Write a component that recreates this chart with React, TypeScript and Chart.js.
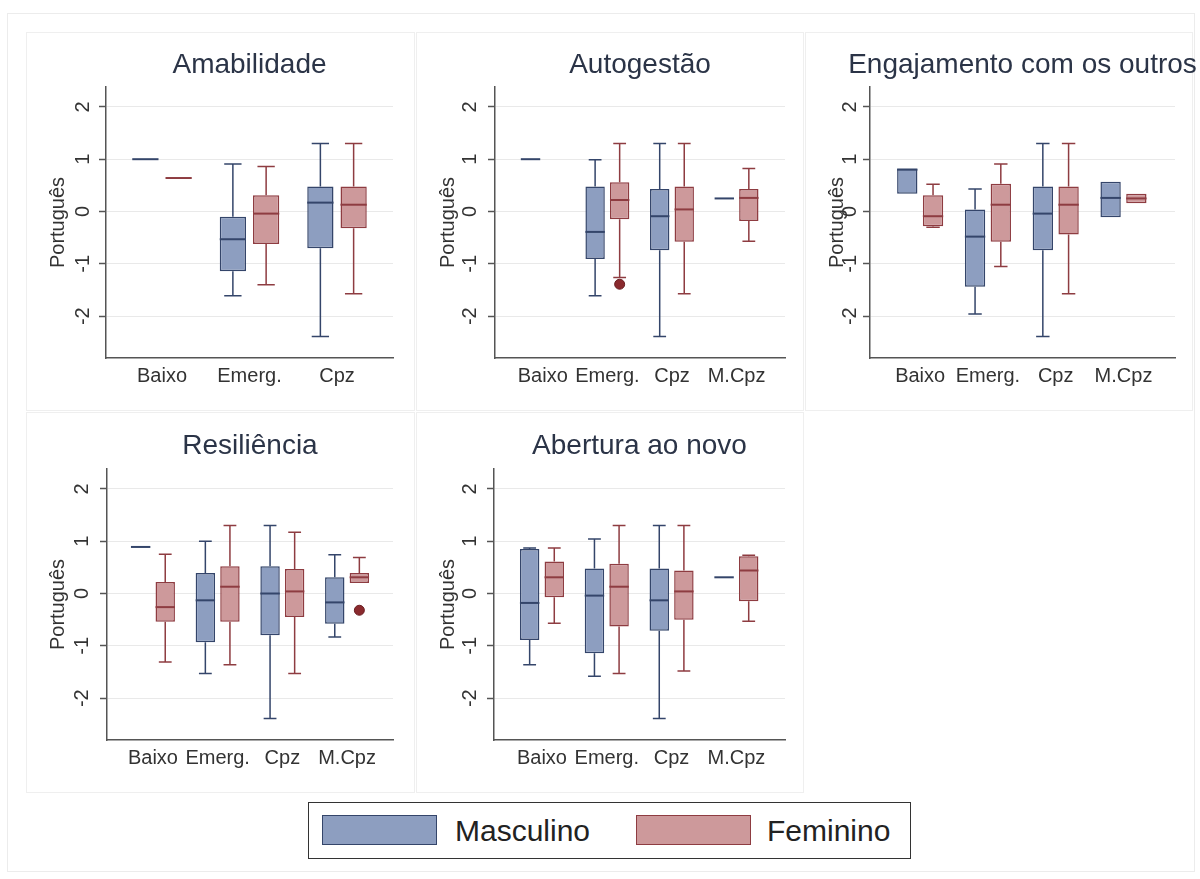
import React, { useEffect, useRef } from 'react';
import { Chart, registerables } from 'chart.js';

Chart.register(...registerables);

const FONT = "'Liberation Sans', Arial, Helvetica, sans-serif";

// ---------------- data ----------------
const categories3 = ['Baixo', 'Emerg.', 'Cpz'];
const categories4 = ['Baixo', 'Emerg.', 'Cpz', 'M.Cpz'];
const yTickValues = [-2, -1, 0, 1, 2];
const yAxisTitle = 'Português';
const seriesLabels = ['Masculino', 'Feminino'];
const panelTitles = ['Amabilidade', 'Autogestão', 'Engajamento com os outros', 'Resiliência', 'Abertura ao novo'];

// five-number summaries per category: [min, Q1, median, Q3, max]; null = no box
type Five = number[] | null;

const amabilidadeMasculino: Five[] = [
  [1.0, 1.0, 1.0, 1.0, 1.0],
  [-1.61, -1.14, -0.53, -0.1, 0.91],
  [-2.39, -0.7, 0.17, 0.48, 1.3],
];
const amabilidadeFeminino: Five[] = [
  [0.64, 0.64, 0.64, 0.64, 0.64],
  [-1.4, -0.62, -0.04, 0.31, 0.86],
  [-1.57, -0.32, 0.13, 0.48, 1.3],
];

const autogestaoMasculino: Five[] = [
  [1.0, 1.0, 1.0, 1.0, 1.0],
  [-1.61, -0.91, -0.39, 0.48, 0.99],
  [-2.39, -0.74, -0.09, 0.43, 1.3],
  [0.25, 0.25, 0.25, 0.25, 0.25],
];
const autogestaoFeminino: Five[] = [
  null,
  [-1.26, -0.15, 0.22, 0.56, 1.3],
  [-1.57, -0.58, 0.04, 0.48, 1.3],
  [-0.57, -0.18, 0.26, 0.43, 0.82],
];
const autogestaoFemininoOutliers = [[1, -1.39]];

const engajamentoMasculino: Five[] = [
  [0.34, 0.34, 0.8, 0.82, 0.82],
  [-1.96, -1.44, -0.48, 0.04, 0.43],
  [-2.39, -0.74, -0.04, 0.48, 1.3],
  [-0.11, -0.11, 0.26, 0.57, 0.57],
];
const engajamentoFeminino: Five[] = [
  [-0.3, -0.28, -0.09, 0.31, 0.52],
  [-1.05, -0.58, 0.13, 0.53, 0.91],
  [-1.57, -0.44, 0.13, 0.48, 1.3],
  [0.16, 0.16, 0.25, 0.34, 0.34],
];

const resilienciaMasculino: Five[] = [
  [0.89, 0.89, 0.89, 0.89, 0.89],
  [-1.53, -0.93, -0.13, 0.39, 1.0],
  [-2.39, -0.8, 0.0, 0.52, 1.3],
  [-0.83, -0.58, -0.17, 0.31, 0.74],
];
const resilienciaFeminino: Five[] = [
  [-1.31, -0.54, -0.26, 0.22, 0.75],
  [-1.36, -0.54, 0.13, 0.52, 1.3],
  [-1.53, -0.45, 0.04, 0.47, 1.17],
  [0.2, 0.2, 0.31, 0.39, 0.69],
];
const resilienciaFemininoOutliers = [[3, -0.32]];

const aberturaMasculino: Five[] = [
  [-1.36, -0.89, -0.18, 0.85, 0.87],
  [-1.58, -1.14, -0.04, 0.48, 1.04],
  [-2.39, -0.71, -0.13, 0.48, 1.3],
  [0.31, 0.31, 0.31, 0.31, 0.31],
];
const aberturaFeminino: Five[] = [
  [-0.57, -0.07, 0.31, 0.61, 0.87],
  [-1.53, -0.63, 0.13, 0.57, 1.3],
  [-1.48, -0.5, 0.04, 0.44, 1.3],
  [-0.53, -0.15, 0.44, 0.71, 0.73],
];

// ---------------- styles ----------------
const MASC_FILL = '#8d9ec0';
const MASC_LINE = '#34456a';
const FEM_FILL = '#cd999b';
const FEM_LINE = '#8e3c41';
const OUT_FILL = '#8a2a2e';
const TITLE_COLOR = '#2b3447';
const TEXT_COLOR = '#333333';
const AXIS_COLOR = '#555555';
const GRID_COLOR = '#e9e9e9';

const Y_MIN = -2.8;
const Y_MAX = 2.38;
const GROUP_OFFSET = 0.19;
const BOX_WIDTH = 0.3;

type PanelSpec = {
  title: string;
  categories: string[];
  masc: Five[];
  fem: Five[];
  outMasc: number[][];
  outFem: number[][];
};

const panels: PanelSpec[] = [
  { title: panelTitles[0], categories: categories3, masc: amabilidadeMasculino, fem: amabilidadeFeminino, outMasc: [], outFem: [] },
  { title: panelTitles[1], categories: categories4, masc: autogestaoMasculino, fem: autogestaoFeminino, outMasc: [], outFem: autogestaoFemininoOutliers },
  { title: panelTitles[2], categories: categories4, masc: engajamentoMasculino, fem: engajamentoFeminino, outMasc: [], outFem: [] },
  { title: panelTitles[3], categories: categories4, masc: resilienciaMasculino, fem: resilienciaFeminino, outMasc: [], outFem: resilienciaFemininoOutliers },
  { title: panelTitles[4], categories: categories4, masc: aberturaMasculino, fem: aberturaFeminino, outMasc: [], outFem: [] },
];

// layout of each panel canvas on the page
const layouts = [
  { left: 26, top: 32, width: 389, height: 379, axisWidth: 80, padRight: 22, xMin: -0.64, xMax: 2.64, yTickPad: 7, titleTop: 16, titleBottom: 5.4 },
  { left: 416, top: 32, width: 388, height: 379, axisWidth: 79, padRight: 19, xMin: -0.74, xMax: 3.75, yTickPad: 9, titleTop: 16, titleBottom: 5.4 },
  { left: 805, top: 32, width: 395, height: 379, axisWidth: 65, padRight: 25, xMin: -0.74, xMax: 3.76, yTickPad: 4, titleTop: 16, titleBottom: 5.4 },
  { left: 26, top: 412, width: 389, height: 381, axisWidth: 81, padRight: 22, xMin: -0.71, xMax: 3.71, yTickPad: 9, titleTop: 17, titleBottom: 6.4 },
  { left: 416, top: 412, width: 388, height: 381, axisWidth: 78, padRight: 19, xMin: -0.74, xMax: 3.75, yTickPad: 8, titleTop: 17, titleBottom: 6.4 },
];
const panelFrames = [
  { left: 26, top: 32, width: 389, height: 379 },
  { left: 416, top: 32, width: 388, height: 379 },
  { left: 805, top: 32, width: 388, height: 379 },
  { left: 26, top: 412, width: 389, height: 381 },
  { left: 416, top: 412, width: 388, height: 381 },
];

type Lay = (typeof layouts)[number];

function buildChart(canvas: HTMLCanvasElement, spec: PanelSpec, lay: Lay) {
  const toBars = (arr: Five[], off: number) =>
    arr.map((v, i) => (v ? { x: i + off, y: [v[1], v[3]] } : null)).filter(Boolean);
  const toPts = (arr: number[][], off: number) => arr.map(([c, v]) => ({ x: c + off, y: v }));

  const centerTitle = {
    id: 'centerTitle',
    afterLayout(chart: any) {
      const tb = chart.titleBlock;
      if (!tb) return;
      const c = (chart.chartArea.left + chart.chartArea.right) / 2;
      tb.left = c - 600;
      tb.right = c + 600;
    },
  };

  const whiskers = {
    id: 'whiskers',
    afterDatasetsDraw(chart: any) {
      const { ctx } = chart;
      const y = chart.scales.y;
      const groups = [
        { ds: 0, arr: spec.masc, color: MASC_LINE },
        { ds: 1, arr: spec.fem, color: FEM_LINE },
      ];
      ctx.save();
      groups.forEach(({ ds, arr, color }) => {
        const meta = chart.getDatasetMeta(ds);
        const present = arr.filter(Boolean) as number[][];
        meta.data.forEach((bar: any, j: number) => {
          const v = present[j];
          if (!v) return;
          const [lo, q1, med, q3, hi] = v;
          const cx = bar.x;
          const w = bar.width;
          const cap = w * 0.33;
          ctx.strokeStyle = color;
          ctx.lineWidth = 1.5;
          ctx.beginPath();
          if (hi > q3) {
            ctx.moveTo(cx, y.getPixelForValue(q3));
            ctx.lineTo(cx, y.getPixelForValue(hi));
            ctx.moveTo(cx - cap, y.getPixelForValue(hi));
            ctx.lineTo(cx + cap, y.getPixelForValue(hi));
          }
          if (lo < q1) {
            ctx.moveTo(cx, y.getPixelForValue(q1));
            ctx.lineTo(cx, y.getPixelForValue(lo));
            ctx.moveTo(cx - cap, y.getPixelForValue(lo));
            ctx.lineTo(cx + cap, y.getPixelForValue(lo));
          }
          ctx.stroke();
          ctx.lineWidth = 2;
          ctx.beginPath();
          ctx.moveTo(cx - w / 2, y.getPixelForValue(med));
          ctx.lineTo(cx + w / 2, y.getPixelForValue(med));
          ctx.stroke();
        });
      });
      ctx.restore();
    },
  };

  const barCommon = {
    borderWidth: 1.5,
    borderSkipped: false,
    grouped: false,
    categoryPercentage: 1,
    barPercentage: BOX_WIDTH / (2 * GROUP_OFFSET),
  };

  return new Chart(canvas, {
    type: 'bar',
    data: {
      datasets: [
        { label: seriesLabels[0], data: toBars(spec.masc, -GROUP_OFFSET), backgroundColor: MASC_FILL, borderColor: MASC_LINE, ...barCommon },
        { label: seriesLabels[1], data: toBars(spec.fem, GROUP_OFFSET), backgroundColor: FEM_FILL, borderColor: FEM_LINE, ...barCommon },
        { type: 'scatter', label: 'out-m', data: toPts(spec.outMasc, -GROUP_OFFSET), pointRadius: 5, backgroundColor: OUT_FILL, borderColor: '#6a1e22', borderWidth: 1 },
        { type: 'scatter', label: 'out-f', data: toPts(spec.outFem, GROUP_OFFSET), pointRadius: 5, backgroundColor: OUT_FILL, borderColor: '#6a1e22', borderWidth: 1 },
      ] as any,
    },
    plugins: [centerTitle, whiskers],
    options: {
      responsive: false,
      animation: false,
      events: [],
      layout: { padding: { left: 0, right: lay.padRight, top: 0, bottom: 0 } },
      plugins: {
        legend: { display: false },
        tooltip: { enabled: false },
        title: {
          display: true,
          text: spec.title,
          color: TITLE_COLOR,
          font: { family: FONT, size: 28, weight: 'normal' },
          padding: { top: lay.titleTop, bottom: lay.titleBottom },
        },
      },
      scales: {
        x: {
          type: 'linear',
          min: lay.xMin,
          max: lay.xMax,
          offset: false,
          afterBuildTicks: (s: any) => {
            s.ticks = spec.categories.map((_, i) => ({ value: i }));
          },
          afterFit: (s: any) => {
            s.height = 53;
          },
          grid: { display: false, drawTicks: false },
          border: { display: true, color: AXIS_COLOR, width: 1.5 },
          ticks: {
            autoSkip: false,
            maxRotation: 0,
            minRotation: 0,
            padding: 6,
            color: TEXT_COLOR,
            font: { family: FONT, size: 20 },
            callback: (v: any) => spec.categories[Math.round(Number(v))] ?? '',
          },
        },
        y: {
          type: 'linear',
          min: Y_MIN,
          max: Y_MAX,
          afterBuildTicks: (s: any) => {
            s.ticks = yTickValues.map((v) => ({ value: v }));
          },
          afterFit: (s: any) => {
            s.width = lay.axisWidth;
          },
          grid: { color: GRID_COLOR, lineWidth: 1, drawTicks: true, tickLength: 7, tickColor: AXIS_COLOR, tickWidth: 1.5 },
          border: { display: true, color: AXIS_COLOR, width: 1.5 },
          title: {
            display: true,
            text: yAxisTitle,
            color: TEXT_COLOR,
            font: { family: FONT, size: 20 },
            padding: { top: 20, bottom: 0 },
          },
          ticks: {
            minRotation: 90,
            maxRotation: 90,
            crossAlign: 'center',
            padding: lay.yTickPad,
            color: TEXT_COLOR,
            font: { family: FONT, size: 20 },
            callback: (v: any) => String(v),
          },
        },
      },
    } as any,
  });
}

function Panel({ spec, lay }: { spec: PanelSpec; lay: Lay }) {
  const ref = useRef<HTMLCanvasElement | null>(null);
  useEffect(() => {
    if (!ref.current) return;
    const chart = buildChart(ref.current, spec, lay);
    return () => chart.destroy();
  }, [spec, lay]);
  return (
    <canvas
      ref={ref}
      width={lay.width}
      height={lay.height}
      style={{ position: 'absolute', left: lay.left, top: lay.top, width: lay.width, height: lay.height }}
    />
  );
}

export default function App() {
  const legendText: React.CSSProperties = {
    position: 'absolute',
    top: 0,
    height: 56,
    lineHeight: '56px',
    fontFamily: FONT,
    fontSize: 30,
    color: '#222',
    whiteSpace: 'nowrap',
  };
  const swatch = (fill: string, line: string, left: number): React.CSSProperties => ({
    position: 'absolute',
    left,
    top: 12,
    width: 115,
    height: 30,
    boxSizing: 'border-box',
    background: fill,
    border: `1.5px solid ${line}`,
  });
  return (
    <div style={{ position: 'absolute', left: 0, top: 0, width: 1200, height: 879, background: '#ffffff', overflow: 'hidden' }}>
      <div style={{ position: 'absolute', left: 7, top: 13, width: 1188, height: 859, border: '1px solid #ececec', boxSizing: 'border-box' }} />
      {panelFrames.map((f, i) => (
        <div
          key={'f' + i}
          style={{ position: 'absolute', left: f.left, top: f.top, width: f.width, height: f.height, border: '1px solid #efefef', boxSizing: 'border-box' }}
        />
      ))}
      {panels.map((p, i) => (
        <Panel key={i} spec={p} lay={layouts[i]} />
      ))}
      <div
        style={{
          position: 'absolute',
          left: 308,
          top: 802,
          width: 603,
          height: 57,
          border: '1.5px solid #333',
          boxSizing: 'border-box',
          background: '#fff',
        }}
      >
        <div style={swatch(MASC_FILL, MASC_LINE, 13)} />
        <div style={{ ...legendText, left: 146 }}>{seriesLabels[0]}</div>
        <div style={swatch(FEM_FILL, FEM_LINE, 327)} />
        <div style={{ ...legendText, left: 458 }}>{seriesLabels[1]}</div>
      </div>
    </div>
  );
}
